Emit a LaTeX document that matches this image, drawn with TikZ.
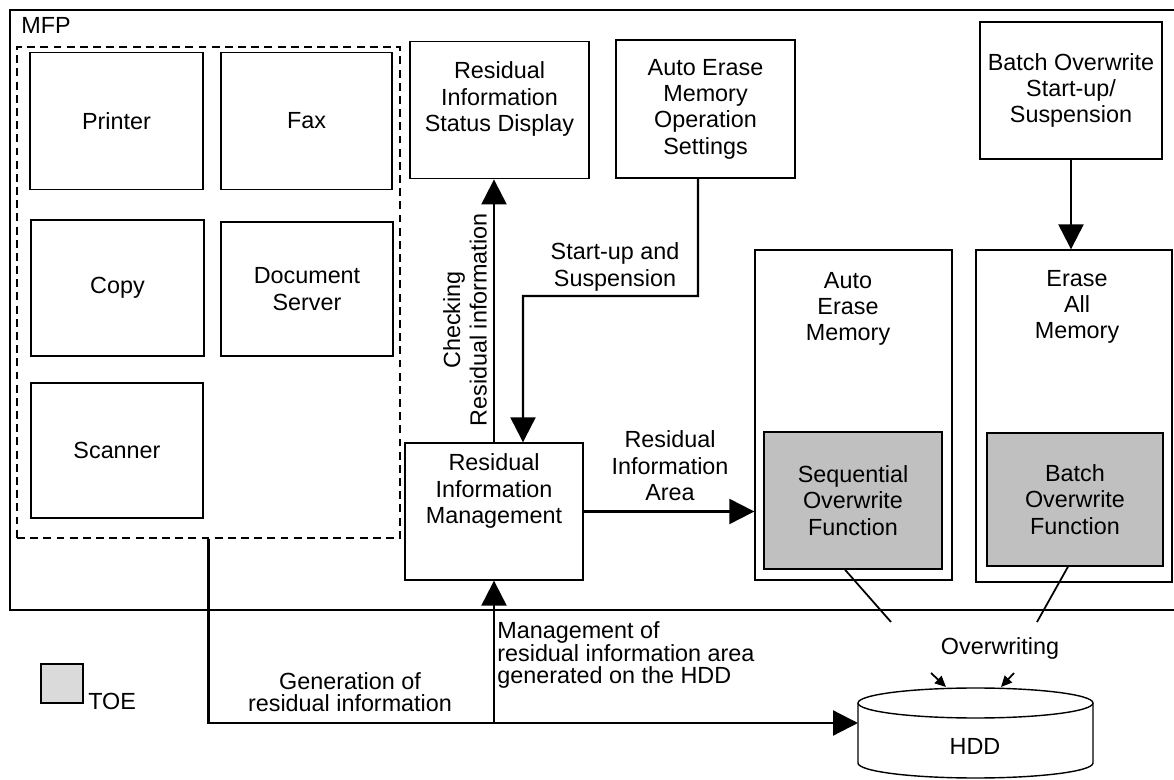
\documentclass[tikz,border=0pt]{standalone}
\usepackage{fontspec}
\setmainfont{Liberation Sans}
\usetikzlibrary{arrows.meta}
\definecolor{toegray}{RGB}{192,192,192}
\definecolor{keygray}{RGB}{218,218,218}

\begin{document}
\begin{tikzpicture}[x=0.02cm, y=-0.02cm, % one unit = one pixel, y downwards
	> = {Triangle[length=0.5cm,width=0.5cm]}, % arrow head style
	box/.style={draw, line width=0.8pt, align=center, inner sep=0pt},
	toe/.style={box, fill=toegray},
	txt/.style={align=center, inner sep=0pt},
	flow/.style={line width=1.3pt},
	every node/.style={font=\fontsize{13.3}{15}\selectfont}]
	\useasboundingbox (0,0) rectangle (1174,780);

	% MFP frame, open on the right
	\draw[line width=0.8pt] (1180,10) -- (10,10) -- (10,610) -- (1180,610);
	\node[anchor=west, inner sep=0pt] (mfp) at (21,25) {MFP};

	\node[box, dash pattern=on 4.5pt off 3pt, minimum width=7.66cm, minimum height=9.82cm] (grp) at (208.5,292.5) {};
	\node[box, minimum width=3.46cm, minimum height=2.74cm] (printer) at (116.5,121) {Printer};
	\node[box, minimum width=3.42cm, minimum height=2.74cm] (fax) at (306.5,121) {Fax};
	\node[box, minimum width=3.46cm, minimum height=2.72cm] (copy) at (117.5,288) {Copy};
	\node[box, minimum width=3.44cm, minimum height=2.68cm] (docsrv) at (307,289) {Document\\Server};
	\node[box, minimum width=3.44cm, minimum height=2.70cm] (scanner) at (117,450.5) {Scanner};

	\node[box, minimum width=3.58cm, minimum height=2.75cm] (status) at (499.5,110) {};
	\node[txt] (statustxt) at (499.5,99) {Residual\\Information\\Status Display};
	\node[box, minimum width=3.58cm, minimum height=2.76cm] (autoset) at (705.5,109) {Auto Erase\\Memory\\Operation\\Settings};
	\node[box, minimum width=3.64cm, minimum height=2.74cm] (batchset) at (1071,90.5) {Batch Overwrite\\Start-up/\\Suspension};

	\node[box, minimum width=3.56cm, minimum height=2.74cm] (mgmt) at (494,511.5) {};
	\node[txt] (mgmttxt) at (494,491) {Residual\\Information\\Management};

	\node[box, minimum width=3.94cm, minimum height=6.60cm] (autoerase) at (853.5,415) {};
	\node[txt] (autoerasetxt) at (848,309) {Auto\\Erase\\Memory};
	\node[box, minimum width=3.92cm, minimum height=6.64cm] (eraseall) at (1074,416) {};
	\node[txt] (erasealltxt) at (1077,307) {Erase\\All\\Memory};
	\node[toe, minimum width=3.56cm, minimum height=2.74cm] (seqov) at (853,500.5) {Sequential\\Overwrite\\Function};
	\node[toe, minimum width=3.52cm, minimum height=2.66cm] (batchov) at (1075,499.5) {Batch\\Overwrite\\Function};

	% HDD
	\draw[line width=0.8pt] (975.5,703) ellipse [x radius=2.35cm, y radius=0.3cm];
	\draw[line width=0.8pt] (858,703) -- (858,763) arc[start angle=180, end angle=360, x radius=2.35cm, y radius=0.3cm] -- (1093,703);
	\node[txt] (hdd) at (975,746) {HDD};
	\coordinate (hddin) at (858,723);

	\draw[flow,->] (mgmt.north) -- (mgmt.north |- status.south);
	\node[txt, rotate=90] (chk) at (465,320) {Checking\\Residual information};
	\draw[flow,->] ([xshift=-0.15cm]autoset.south) |- (523,296) -- ([xshift=0.58cm]mgmt.north);
	\node[txt] (susp) at (615,267) {Start-up and\\Suspension};
	\draw[flow,->] (mgmt.east) -- (mgmt.east -| autoerase.west);
	\node[txt] (area) at (670,466) {Residual\\Information\\Area};
	\draw[flow,->] (batchset.south) -- (batchset.south |- eraseall.north);

	\draw[flow,->] (grp.south) |- (hddin);
	\node[txt, font=\fontsize{13.3}{12.6}\selectfont] (gen) at (350,692) {Generation of\\residual information};
	\draw[flow,->] (mgmt.south |- hddin) -- (mgmt.south);
	\node[anchor=west, align=left, inner sep=0pt, font=\fontsize{13.3}{12.6}\selectfont] (mgmtof) at (497,655) {Management of\\residual information area\\generated on the HDD};

	% overwriting
	\coordinate (ow1) at (891,622);
	\coordinate (ow2) at (1037,622);
	\draw[line width=1pt] ([xshift=-0.16cm]seqov.south) -- (ow1);
	\draw[line width=1pt] ([xshift=-0.14cm]batchov.south) -- (ow2);
	\node[txt] (ovw) at (1000,648) {Overwriting};
	\coordinate (a1) at (931,673);
	\coordinate (a2) at (946,687);
	\coordinate (b1) at (1014,673);
	\coordinate (b2) at (1001,687);
	\draw[line width=1pt, -{Triangle[length=0.22cm,width=0.2cm]}] (a1) -- (a2);
	\draw[line width=1pt, -{Triangle[length=0.22cm,width=0.2cm]}] (b1) -- (b2);

	% key
	\node[draw, line width=0.8pt, fill=keygray, minimum width=0.84cm, minimum height=0.78cm] (key) at (62,683.5) {};
	\node[anchor=west, inner sep=0pt] (keytxt) at (88,701) {TOE};

\end{tikzpicture}
\end{document}
